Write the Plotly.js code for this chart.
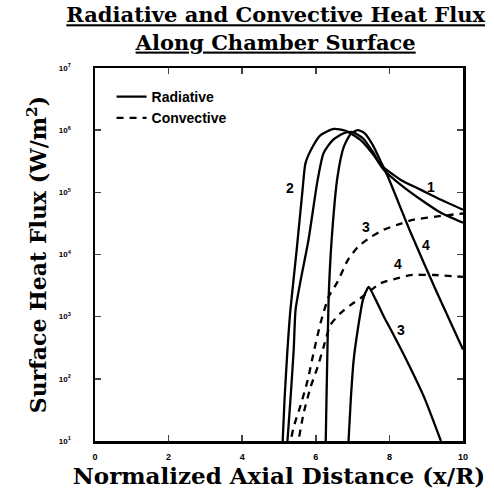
<!DOCTYPE html>
<html><head><meta charset="utf-8">
<script src="https://cdn.plot.ly/plotly-3.0.1.min.js"></script>
<style>html,body{margin:0;padding:0;background:#fff}#c{width:494px;height:495px}</style>
</head><body><div id="c"></div>
<script>
// Radiative (solid) curves: x = x/R, y = log10 heat flux
const rad1X = [5.23,5.31,5.40,5.45,5.59,5.80,6.05,6.21,6.46,6.76,7.00,7.28,7.55,7.77,8.31,8.86,9.40,10.0];
const rad1L = [1.00,1.66,2.47,3.11,3.59,4.23,5.20,5.63,5.84,5.95,5.97,5.87,5.65,5.44,5.20,5.04,4.88,4.72];
const rad2X = [5.10,5.15,5.23,5.31,5.48,5.64,5.72,5.91,6.13,6.49,6.81,7.22,7.57,7.85,8.31,8.86,9.40,10.0];
const rad2L = [1.00,1.66,2.47,3.11,4.07,5.04,5.47,5.73,5.92,6.02,5.99,5.84,5.60,5.36,5.12,4.88,4.67,4.51];
const rad3X = [6.89,6.95,7.03,7.14,7.28,7.41,7.44,7.63,7.85,8.04,8.50,8.94,9.40];
const rad3L = [1.00,1.66,2.31,2.79,3.27,3.46,3.48,3.27,3.00,2.79,2.26,1.71,1.00];
const rad4X = [6.27,6.29,6.35,6.43,6.59,6.76,6.95,7.14,7.33,7.55,7.77,7.96,8.58,9.26,10.0];
const rad4L = [1.00,1.66,3.32,4.23,5.25,5.73,5.94,6.00,5.95,5.76,5.49,5.25,4.35,3.43,2.47];
// Convective (dashed) curves
const conv3X = [5.34,5.40,5.59,5.78,5.94,6.13,6.35,6.59,6.87,7.14,7.49,7.85,8.23,8.66,9.40,10.0];
const conv3L = [1.07,1.23,1.58,1.98,2.42,2.90,3.32,3.56,3.91,4.12,4.28,4.40,4.48,4.56,4.62,4.66];
const conv4X = [5.55,5.67,5.86,6.05,6.21,6.40,6.68,6.95,7.22,7.77,8.23,8.58,9.21,10.0];
const conv4L = [1.07,1.45,1.87,2.19,2.51,2.87,3.06,3.19,3.30,3.54,3.62,3.67,3.67,3.64];
// Axis ticks
const xTicks = [0,2,4,6,8,10];
const yExps = [1,2,3,4,5,6,7];
const yTickVals = yExps.map(e => Math.pow(10,e));
const yTickText = yExps.map(e => '10<sup>' + e + '</sup>');
// Curve labels
const labelText = ['2','1','3','4','4','3'];
const labelX = [5.29,9.13,7.36,8.99,8.23,8.31];
const labelL = [5.07,5.09,4.44,4.16,3.84,2.79];

const p = a => a.map(v => Math.pow(10, v));
const solid = {color:'#000', width:2.3};
const dashed = {color:'#000', width:2.3, dash:'7px,6px'};
const traces = [
  {x:rad1X, y:p(rad1L), mode:'lines', line:solid, name:'<b>Radiative</b>', showlegend:true},
  {x:rad2X, y:p(rad2L), mode:'lines', line:solid, showlegend:false},
  {x:rad3X, y:p(rad3L), mode:'lines', line:solid, showlegend:false},
  {x:rad4X, y:p(rad4L), mode:'lines', line:solid, showlegend:false},
  {x:conv3X, y:p(conv3L), mode:'lines', line:dashed, name:'<b>Convective</b>', showlegend:true},
  {x:conv4X, y:p(conv4L), mode:'lines', line:dashed, showlegend:false}
];
traces.forEach(t => { t.line = Object.assign({shape:'spline', smoothing:0.6}, t.line); t.hoverinfo='skip'; });

const ann = labelText.map((t,i) => ({x:labelX[i], y:labelL[i], xref:'x', yref:'y', text:'<b>'+t+'</b>', showarrow:false,
  font:{family:'Liberation Sans Narrow, Liberation Sans, sans-serif', size:14, color:'#000'}}));

const serif = 'DejaVu Serif, serif';
const layout = {
  width:494, height:495,
  margin:{l:95, r:31, t:68, b:54},
  paper_bgcolor:'#fff', plot_bgcolor:'#fff',
  title:{text:'<b><u>Radiative and Convective Heat Flux</u></b><br><b><u>Along Chamber Surface</u></b>',
    x:0.558, xanchor:'center', y:0.955, yanchor:'top', font:{family:serif, size:21, color:'#000'}},
  xaxis:{range:[0,10], tickvals:xTicks, ticktext:xTicks.map(String), ticks:'inside', ticklen:6, tickwidth:1.5,
    showline:true, linewidth:2.5, linecolor:'#000', mirror:'ticks', showgrid:false, zeroline:false,
    ticklabelstandoff:6,
    tickfont:{family:'Liberation Sans, sans-serif', size:9, color:'#000', weight:'bold'},
    title:{text:'<b>Normalized Axial Distance (x/R)</b>', font:{family:serif, size:23, color:'#000'}, standoff:4}},
  yaxis:{type:'log', range:[1,7], tickvals:yTickVals, ticktext:yTickText, ticks:'inside', ticklen:6, tickwidth:1.5,
    showline:true, linewidth:2.5, linecolor:'#000', mirror:'ticks', showgrid:false, zeroline:false,
    ticklabelstandoff:20,
    tickfont:{family:'Liberation Sans, sans-serif', size:8, color:'#000', weight:'bold'},
    title:{text:'<b>Surface Heat Flux (W/m<sup>2</sup>)</b>', font:{family:serif, size:22, color:'#000'}, standoff:6}},
  showlegend:true,
  legend:{x:0.045, y:0.965, xanchor:'left', yanchor:'top', bgcolor:'rgba(0,0,0,0)', borderwidth:0,
    font:{family:'Liberation Sans Narrow, Liberation Sans, sans-serif', size:14, color:'#000'}, tracegroupgap:2},
  annotations:ann
};
Plotly.newPlot('c', traces, layout, {staticPlot:true, displayModeBar:false});
</script></body></html>
